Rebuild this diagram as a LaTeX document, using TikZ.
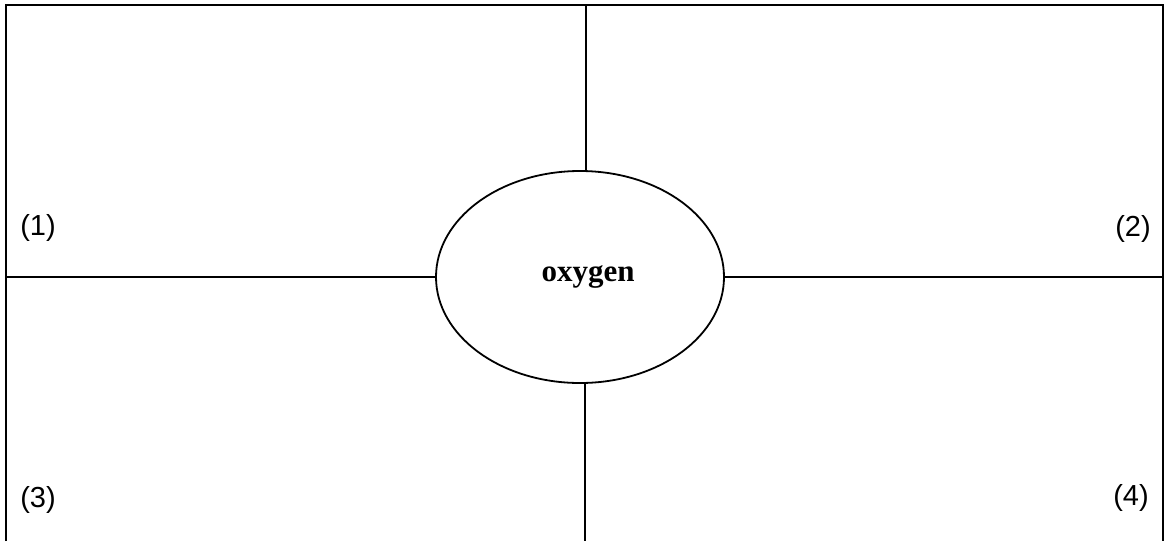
\documentclass[tikz,border=0pt]{standalone}
\usepackage{fontspec}
\setmainfont{Liberation Serif}
\setsansfont{Liberation Sans}
\usetikzlibrary{
    shapes.geometric,
    positioning
}
\tikzset{
    frame/.style={
        draw=black,
        line width=1pt
    },
    divider/.style={
        draw=black,
        line width=0.8pt
    },
    hub/.style={
        ellipse,
        draw=black,
        line width=0.9pt,
        minimum width=144pt,
        minimum height=106pt,
        inner sep=0pt,
        font=\fontsize{15.5}{18}\selectfont\bfseries
    },
    corner/.style={
        inner sep=0pt,
        font=\sffamily\fontsize{14.5}{17}\selectfont
    }
}

\begin{document}
\begin{tikzpicture}[x=0.5pt, y=-0.5pt]
\useasboundingbox (0,0) rectangle (1166,541);

% outer frame, open at the bottom
\draw[frame] (6,541) -- (6,5) -- (1163,5) -- (1163,541);

\node[hub] (oxy) at (580,277) {\hspace*{8pt}oxygen};

\coordinate (ntop) at (586,5);
\coordinate (nbot) at (585,541);
\coordinate (wleft) at (6,277);
\coordinate (eright) at (1163,277);

\draw[divider] (ntop) -- (ntop |- oxy.north);
\draw[divider] (nbot |- oxy.south) -- (nbot);
\draw[divider] (wleft) -- (oxy.west);
\draw[divider] (oxy.east) -- (eright);

\node[corner] (one) at (38,228) {(1)};
\node[corner] (two) at (1133,229) {(2)};
\node[corner] (three) at (38,500) {(3)};
\node[corner] (four) at (1131,498) {(4)};
\end{tikzpicture}
\end{document}
